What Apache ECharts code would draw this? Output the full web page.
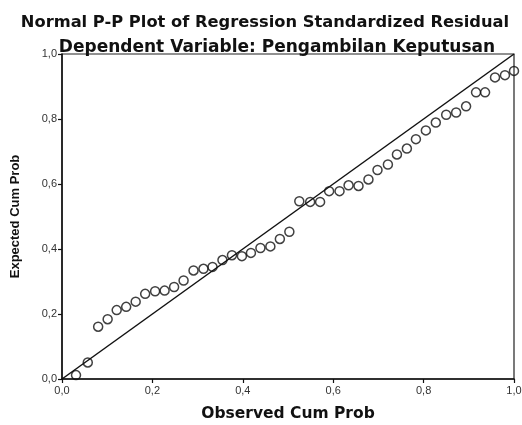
<!DOCTYPE html>
<html>
<head>
<meta charset="utf-8">
<script src="https://cdn.jsdelivr.net/npm/echarts@6/dist/echarts.min.js"></script>
<style>
html,body{margin:0;padding:0;background:#fff;}
#chart{width:522px;height:425px;}
</style>
</head>
<body>
<div id="chart"></div>
<script>
var titleText = "Normal P-P Plot of Regression Standardized Residual";
var subtitleText = "Dependent Variable: Pengambilan Keputusan";
var xAxisName = "Observed Cum Prob";
var yAxisName = "Expected Cum Prob";

var observedCumProb = [0.031,0.057,0.080,0.101,0.121,0.142,0.163,0.184,0.206,0.227,0.248,0.269,0.291,0.313,0.333,0.355,0.376,0.398,0.418,0.439,0.461,0.482,0.503,0.525,0.549,0.571,0.591,0.614,0.634,0.656,0.678,0.698,0.721,0.741,0.763,0.783,0.805,0.827,0.850,0.872,0.894,0.916,0.936,0.958,0.980,1.000];
var expectedCumProb = [0.012,0.051,0.161,0.184,0.212,0.222,0.238,0.262,0.270,0.272,0.283,0.303,0.334,0.339,0.345,0.366,0.381,0.378,0.388,0.403,0.408,0.431,0.453,0.547,0.545,0.545,0.578,0.578,0.596,0.594,0.614,0.643,0.660,0.691,0.709,0.738,0.765,0.789,0.813,0.820,0.839,0.882,0.882,0.928,0.935,0.948];
var refLineX = [0, 1];
var refLineY = [0, 1];

var points = observedCumProb.map(function(v,i){ return [v, expectedCumProb[i]]; });
var refLine = refLineX.map(function(v,i){ return [v, refLineY[i]]; });

function fmt(v){ return v.toFixed(1).replace('.', ','); }

var wideFont = 'DejaVu Sans, Verdana, sans-serif';
var armFont = 'Liberation Sans, Arial, sans-serif';

var chart = echarts.init(document.getElementById('chart'), null, {renderer:'canvas'});
var axisCommon = {
  type:'value', min:0, max:1, interval:0.2,
  axisLine:{show:true, lineStyle:{color:'#111', width:1.5}},
  axisTick:{show:true, length:4, lineStyle:{color:'#111', width:1.2}},
  splitLine:{show:false},
  axisLabel:{formatter:fmt, color:'#333', fontSize:11, fontFamily:armFont},
  nameTextStyle:{color:'#111', fontWeight:'bold', fontSize:15.5, fontFamily:wideFont}
};
chart.setOption({
  backgroundColor:'#fff',
  animation:false,
  title:[
    {text:titleText, left:260, textAlign:'center', top:10,
     textStyle:{fontSize:16.3, fontWeight:'bold', color:'#111', fontFamily:wideFont}},
    {text:subtitleText, left:272, textAlign:'center', top:34,
     textStyle:{fontSize:17, fontWeight:'bold', color:'#111', fontFamily:wideFont}}
  ],
  grid:{left:62, right:8, top:54, bottom:46, outerBoundsMode:'none', containLabel:false,
        show:true, borderColor:'#222', borderWidth:1.2, backgroundColor:'transparent'},
  xAxis:Object.assign({}, axisCommon, {
    name:xAxisName, nameLocation:'middle', nameGap:27,
    axisLabel:Object.assign({}, axisCommon.axisLabel, {margin:6})
  }),
  yAxis:Object.assign({}, axisCommon, {
    name:yAxisName, nameLocation:'middle', nameGap:40,
    nameTextStyle:{color:'#111', fontWeight:'bold', fontSize:13, fontFamily:armFont},
    axisLabel:Object.assign({}, axisCommon.axisLabel, {margin:5})
  }),
  series:[
    {type:'line', data:refLine, showSymbol:false, symbol:'none',
     lineStyle:{color:'#111', width:1.5}, silent:true, z:1},
    {type:'scatter', data:points, symbol:'circle', symbolSize:9,
     itemStyle:{color:'rgba(255,255,255,0)', borderColor:'#111', borderWidth:1.5}, z:2}
  ]
});
</script>
</body>
</html>
